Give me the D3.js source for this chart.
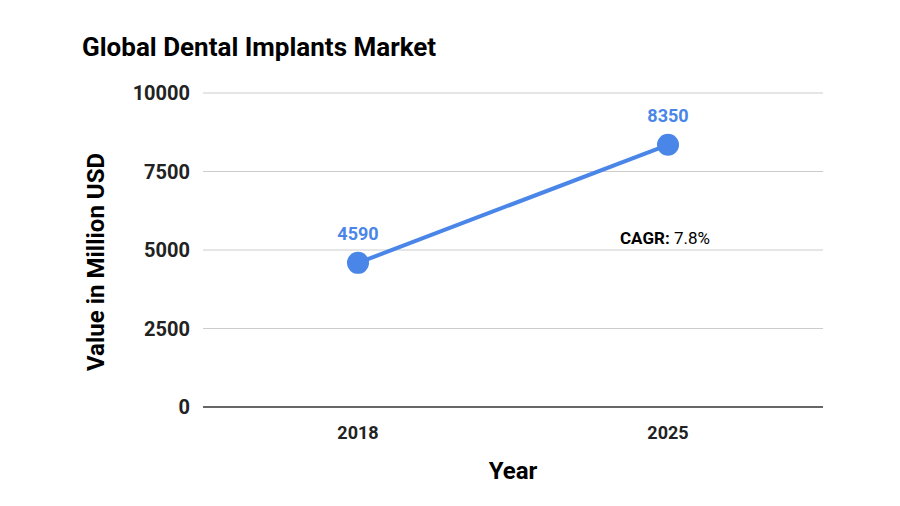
<!DOCTYPE html>
<html><head><meta charset="utf-8">
<script src="https://cdn.jsdelivr.net/npm/d3@7"></script>
<style>body{margin:0;background:#fff;font-family:Roboto,Arial,sans-serif}</style>
</head><body><div id="chart"></div>
<script>
var years = ["2018", "2025"];
var values = [4590, 8350];
var yTicks = [0, 2500, 5000, 7500, 10000];

var svg = d3.select("#chart").append("svg").attr("width", 900).attr("height", 506);
var x = d3.scalePoint().domain(years).range([203, 823]).padding(0.5);
var y = d3.scaleLinear().domain([0, 10000]).range([407, 93]);

svg.append("text").attr("x", 82).attr("y", 56).text("Global Dental Implants Market")
    .style("font-size", "26px").style("font-weight", "bold").attr("fill", "#000");

// grid
svg.selectAll(".grid").data(yTicks).enter().append("line")
    .attr("x1", 203).attr("x2", 823).attr("y1", d => y(d)).attr("y2", d => y(d))
    .attr("stroke", d => d == 0 ? "#333" : "#ccc").attr("stroke-width", d => d == 0 ? 1.5 : 1);

svg.selectAll(".ytick").data(yTicks).enter().append("text")
    .attr("x", 190).attr("y", d => y(d) + 7).attr("text-anchor", "end")
    .text(d => d).style("font-size", "20px").style("font-weight", "bold").attr("fill", "#222");

svg.selectAll(".xtick").data(years).enter().append("text")
    .attr("x", d => x(d)).attr("y", 439).attr("text-anchor", "middle")
    .text(d => d).style("font-size", "18px").style("font-weight", "bold").attr("fill", "#222");

svg.append("text").attr("x", 513).attr("y", 479).attr("text-anchor", "middle").text("Year")
    .style("font-size", "24px").style("font-weight", "bold");
svg.append("text").attr("transform", "translate(104,262) rotate(-90)").attr("text-anchor", "middle")
    .text("Value in Million USD").style("font-size", "24px").style("font-weight", "bold");

var data = years.map((d, i) => ({year: d, value: values[i]}));
svg.append("path").datum(data)
    .attr("d", d3.line().x(d => x(d.year)).y(d => y(d.value)))
    .attr("stroke", "#4a86e8").attr("stroke-width", 4).attr("fill", "none");
svg.selectAll(".pt").data(data).enter().append("circle")
    .attr("cx", d => x(d.year)).attr("cy", d => y(d.value)).attr("r", 11).attr("fill", "#4a86e8");
svg.selectAll(".lbl").data(data).enter().append("text")
    .attr("x", d => x(d.year)).attr("y", d => y(d.value) - 23).attr("text-anchor", "middle")
    .text(d => d.value).style("font-size", "18px").style("font-weight", "bold").attr("fill", "#4a86e8");

var c = svg.append("text").attr("x", 620).attr("y", 244).style("font-size", "17px").attr("fill", "#000");
c.append("tspan").text("CAGR: ").style("font-weight", "bold");
c.append("tspan").text("7.8%");
</script></body></html>
